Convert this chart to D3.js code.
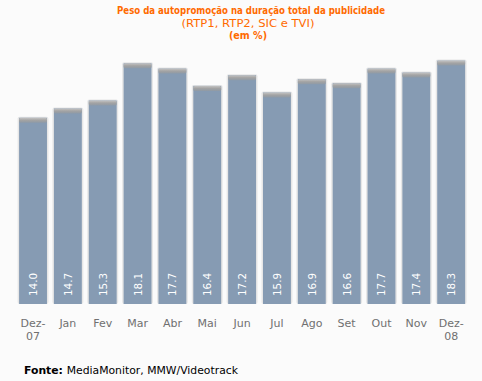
<!DOCTYPE html>
<html><head><meta charset="utf-8">
<script src="https://cdnjs.cloudflare.com/ajax/libs/d3/7.8.5/d3.min.js"></script>
<style>
html,body{margin:0;padding:0;background:#fbfbfb;}
svg{display:block;}
</style></head>
<body><div id="chart"></div>
<script>
const categories = ["Dez-07","Jan","Fev","Mar","Abr","Mai","Jun","Jul","Ago","Set","Out","Nov","Dez-08"];
const values = [14.0,14.7,15.3,18.1,17.7,16.4,17.2,15.9,16.9,16.6,17.7,17.4,18.3];
const titleLines = ["Peso da autopromoção na duração total da publicidade","(RTP1, RTP2, SIC e TVI)","(em %)"];

const W = 482, H = 381;
const svg = d3.select("#chart").append("svg").attr("width", W).attr("height", H);
svg.append("rect").attr("width", W).attr("height", H).attr("fill", "#fbfbfb");

const defs = svg.append("defs");
const cap = defs.append("linearGradient").attr("id","cap").attr("x1",0).attr("y1",0).attr("x2",0).attr("y2",1);
cap.append("stop").attr("offset","0%").attr("stop-color","#c4c4c4");
cap.append("stop").attr("offset","50%").attr("stop-color","#a3a3a3");
cap.append("stop").attr("offset","100%").attr("stop-color","#8f9aa6");

const x = d3.scaleBand().domain(categories).range([15.6, 468.6]).paddingInner(0.2).paddingOuter(0.1);
const y = d3.scaleLinear().domain([0, 20]).range([304, 38]);

const font = "Verdana, 'DejaVu Sans', sans-serif";

// titles
svg.append("text").attr("x", 251).attr("y", 14).attr("text-anchor","middle")
  .attr("font-family", font).attr("font-size", 11).attr("font-weight","bold").attr("fill","#ff6a00")
  .attr("textLength", 268).attr("lengthAdjust","spacingAndGlyphs").text(titleLines[0]);
svg.append("text").attr("x", 248).attr("y", 27).attr("text-anchor","middle")
  .attr("font-family", font).attr("font-size", 11).attr("fill","#ff6a00")
  .attr("textLength", 133).attr("lengthAdjust","spacingAndGlyphs").text(titleLines[1]);
svg.append("text").attr("x", 248).attr("y", 39).attr("text-anchor","middle")
  .attr("font-family", font).attr("font-size", 10).attr("font-weight","bold").attr("fill","#ff6a00")
  .attr("textLength", 38).attr("lengthAdjust","spacingAndGlyphs").text(titleLines[2]);

const g = svg.append("g");
const bars = g.selectAll("g.bar").data(categories.map((c,i)=>({c, v: values[i]}))).join("g").attr("class","bar");

// shadow halo
bars.append("rect")
  .attr("x", d => x(d.c) - 1.5).attr("y", d => y(d.v) - 1)
  .attr("width", x.bandwidth() + 3).attr("height", d => 304 - y(d.v) + 1)
  .attr("rx", 2).attr("fill", "#e6e6e6");
// bar body
bars.append("rect")
  .attr("x", d => x(d.c)).attr("y", d => y(d.v))
  .attr("width", x.bandwidth()).attr("height", d => 304 - y(d.v))
  .attr("fill", "#869bb3");
// top cap
bars.append("rect")
  .attr("x", d => x(d.c)).attr("y", d => y(d.v))
  .attr("width", x.bandwidth()).attr("height", 5)
  .attr("rx", 1.5).attr("fill", "url(#cap)");

// value labels
bars.append("text")
  .attr("transform", d => `translate(${x(d.c) + x.bandwidth()/2 + 4},296) rotate(-90)`)
  .attr("font-family", font).attr("font-size", 11).attr("fill", "#ffffff")
  .attr("textLength", 23).attr("lengthAdjust","spacingAndGlyphs")
  .text(d => d.v.toFixed(1));

// x axis labels
const lab = svg.append("g").selectAll("text").data(categories).join("text")
  .attr("text-anchor","middle")
  .attr("font-family", font).attr("font-size", 11).attr("fill","#707070");
lab.each(function(c){
  const t = d3.select(this);
  const cx = x(c) + x.bandwidth()/2;
  const parts = c.includes("-") ? [c.split("-")[0] + "-", c.split("-")[1]] : [c];
  parts.forEach((p,i) => t.append("tspan").attr("x", cx).attr("y", 327 + i*13).text(p));
});

// footer
const f = svg.append("text").attr("x", 24).attr("y", 374)
  .attr("font-family", font).attr("font-size", 11).attr("fill","#000")
  .attr("textLength", 214).attr("lengthAdjust","spacingAndGlyphs");
f.append("tspan").attr("font-weight","bold").text("Fonte: ");
f.append("tspan").text("MediaMonitor, MMW/Videotrack");
</script></body></html>
